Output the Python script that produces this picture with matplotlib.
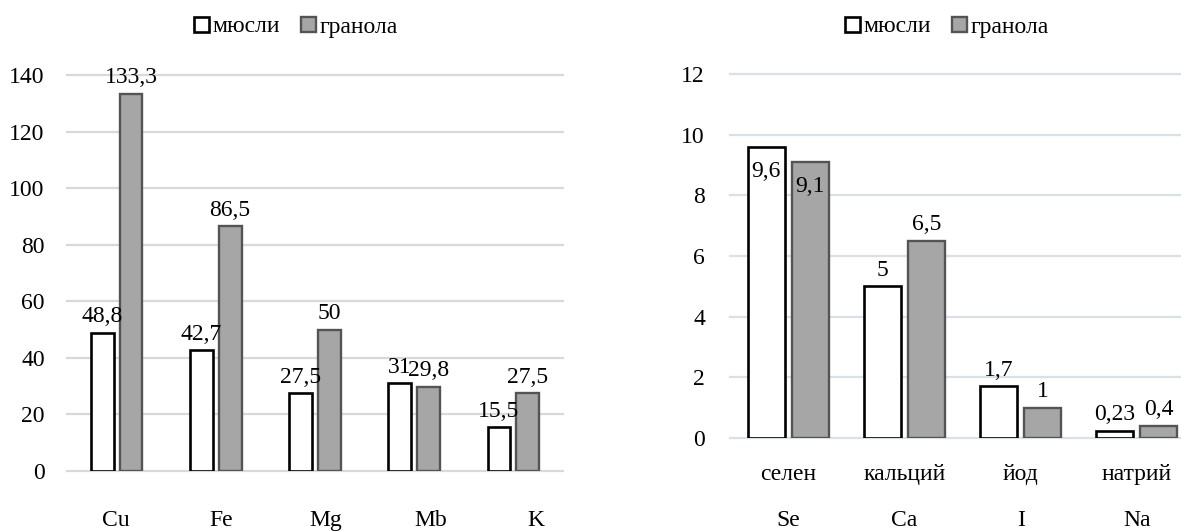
"""
Two grouped bar charts: muesli vs granola micronutrients.
"""

import numpy as np
import matplotlib.pyplot as plt
from matplotlib.patches import Patch

# ------------------------------------------------------------
# Style
# ------------------------------------------------------------

plt.rcParams["font.family"] = ["Liberation Serif", "DejaVu Serif"]
plt.rcParams["font.size"] = 17

W, H = 1181, 531

MUESLI_FACE = "white"
MUESLI_EDGE = "black"
GRANOLA_FACE = "#A6A6A6"
GRANOLA_EDGE = "#545454"

# ------------------------------------------------------------
# Data
# ------------------------------------------------------------

series_names = ["мюсли", "гранола"]

left_categories = ["Cu", "Fe", "Mg", "Mb", "K"]
left_muesli = [48.8, 42.7, 27.5, 31, 15.5]
left_granola = [133.3, 86.5, 50, 29.8, 27.5]
left_yticks = [0, 20, 40, 60, 80, 100, 120, 140]

right_categories = ["селен", "кальций", "йод", "натрий"]
right_symbols = ["Se", "Ca", "I", "Na"]
right_muesli = [9.6, 5, 1.7, 0.23]
right_granola = [9.1, 6.5, 1, 0.4]
right_yticks = [0, 2, 4, 6, 8, 10, 12]


def fmt(v):
    return f"{v:g}".replace(".", ",")


def draw_panel(ax, muesli, granola, yticks, width, offset, grid_color, inside_above=None):

    x = np.arange(len(muesli))

    bars_m = ax.bar(x - offset, muesli, width, color=MUESLI_FACE,
                    edgecolor=MUESLI_EDGE, linewidth=1.9, zorder=3)
    bars_g = ax.bar(x + offset, granola, width, color=GRANOLA_FACE,
                    edgecolor=GRANOLA_EDGE, linewidth=1.7, zorder=3)

    for bars, vals in [(bars_m, muesli), (bars_g, granola)]:
        for bar, v in zip(bars, vals):
            xc = bar.get_x() + bar.get_width() / 2
            if inside_above is not None and v > inside_above:
                ax.annotate(fmt(v), (xc, v), xytext=(0, -10),
                            textcoords="offset points",
                            ha="center", va="top", zorder=4)
            else:
                ax.annotate(fmt(v), (xc, v), xytext=(0, 4),
                            textcoords="offset points",
                            ha="center", va="bottom", zorder=4)

    ax.set_yticks(yticks)
    ax.set_ylim(yticks[0], yticks[-1])
    ax.yaxis.grid(True, color=grid_color, linewidth=1.6)
    for line in ax.get_ygridlines():
        line.set_clip_on(False)
    ax.set_axisbelow(True)

    for s in ax.spines.values():
        s.set_visible(False)

    return x


fig = plt.figure(figsize=(W / 100, H / 100), dpi=100)

# ------------------------------------------------------------
# Left panel
# ------------------------------------------------------------

ax1 = fig.add_axes([67 / W, 1 - 471 / H, (563 - 67) / W, (471 - 75) / H])

x1 = draw_panel(ax1, left_muesli, left_granola, left_yticks,
                width=0.23, offset=0.145, grid_color="#D9D9D9")

ax1.set_xlim(-0.5, len(left_categories) - 0.5)
ax1.set_xticks(x1 * 1.06 - 0.01, left_categories)
ax1.tick_params(axis="x", length=0, pad=28)
ax1.tick_params(axis="y", length=0, pad=16)

# ------------------------------------------------------------
# Right panel
# ------------------------------------------------------------

ax2 = fig.add_axes([730 / W, 1 - 438 / H, (1195 - 730) / W, (438 - 74) / H])

x2 = draw_panel(ax2, right_muesli, right_granola, right_yticks,
                width=0.318, offset=0.19, grid_color="#DAE0E8",
                inside_above=0.75 * right_yticks[-1])

ax2.set_xlim(-0.5, len(right_categories) - 0.5)
ax2.set_xticks(x2, right_categories)
ax2.tick_params(axis="x", length=0, pad=19)
ax2.tick_params(axis="y", length=0, pad=18)

sec = ax2.secondary_xaxis("bottom")
sec.set_xticks(x2, right_symbols)
sec.tick_params(length=0, pad=52)
sec.spines["bottom"].set_visible(False)

# ------------------------------------------------------------
# Legends
# ------------------------------------------------------------

handles = [
    Patch(facecolor=MUESLI_FACE, edgecolor=MUESLI_EDGE, linewidth=1.9),
    Patch(facecolor=GRANOLA_FACE, edgecolor=GRANOLA_EDGE, linewidth=1.7),
]

for cx in [296 / W, 947 / W]:
    fig.legend(handles, series_names, loc="center",
               bbox_to_anchor=(cx, 1 - 27 / H), ncol=2, frameon=False,
               handlelength=0.62, handleheight=0.62, handletextpad=0.15,
               columnspacing=0.9, borderpad=0, borderaxespad=0)

fig.savefig("out.png", dpi=100)
